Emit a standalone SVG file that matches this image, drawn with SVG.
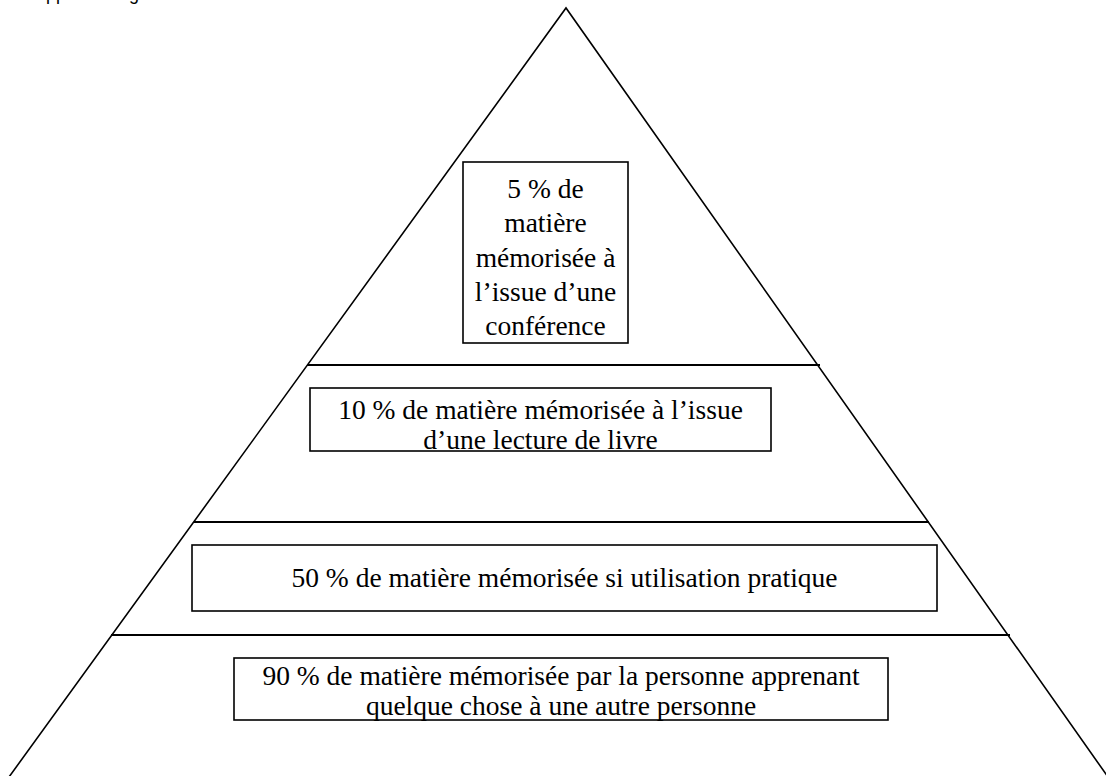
<svg xmlns="http://www.w3.org/2000/svg" width="1106" height="776" viewBox="0 0 1106 776">
  <style>
    .edge { fill: none; stroke: #000; stroke-width: 1.6; }
    .tier { stroke: #000; stroke-width: 1.8; }
    .box { fill: #fff; stroke: #000; stroke-width: 1.6; }
    .lbl { font-family: 'Liberation Serif', 'DejaVu Serif', 'Times New Roman', serif; font-size: 27.5px; fill: #000; text-anchor: middle; }
    .head { font-family: 'Liberation Sans', Arial, sans-serif; font-size: 18px; fill: #000; }
  </style>
  <rect width="1106" height="776" fill="#fff"/>
  <!-- heading line clipped at the top edge -->
  <text class="head" x="34" y="0">Apprentissage</text>
  <!-- pyramid outline and tier separators -->
  <g id="connectors">
    <polyline class="edge" points="9,777 566,8 1108,777"/>
    <line class="tier" x1="307" y1="365" x2="820" y2="365"/>
    <line class="tier" x1="194" y1="522" x2="929" y2="522"/>
    <line class="tier" x1="111" y1="635" x2="1010" y2="635"/>
  </g>
  <g id="tier-5">
    <rect class="box" x="463" y="162" width="165" height="181"/>
    <text class="lbl" x="545.5" y="198">5 % de</text>
    <text class="lbl" x="545.5" y="232">matière</text>
    <text class="lbl" x="545.5" y="266.5">mémorisée à</text>
    <text class="lbl" x="545.5" y="301">l’issue d’une</text>
    <text class="lbl" x="545.5" y="335">conférence</text>
  </g>
  <g id="tier-10">
    <rect class="box" x="310" y="388" width="461" height="63"/>
    <text class="lbl" x="540.5" y="419">10 % de matière mémorisée à l’issue</text>
    <text class="lbl" x="540.5" y="449">d’une lecture de livre</text>
  </g>
  <g id="tier-50">
    <rect class="box" x="192" y="545" width="745" height="66"/>
    <text class="lbl" x="564.5" y="587">50 % de matière mémorisée si utilisation pratique</text>
  </g>
  <g id="tier-90">
    <rect class="box" x="234" y="658" width="654" height="62"/>
    <text class="lbl" x="561" y="685">90 % de matière mémorisée par la personne apprenant</text>
    <text class="lbl" x="561" y="715">quelque chose à une autre personne</text>
  </g>
</svg>
